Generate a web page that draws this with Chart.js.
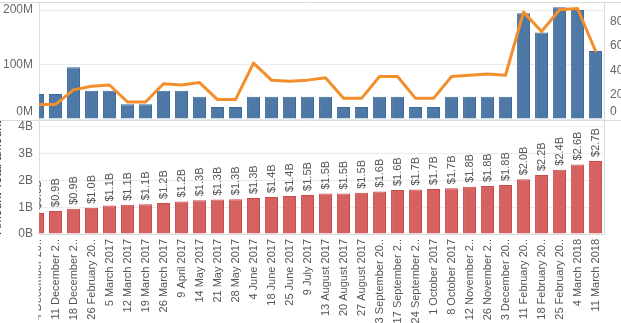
<!DOCTYPE html>
<html><head><meta charset="utf-8">
<script src="https://cdn.jsdelivr.net/npm/chart.js@4.4.1/dist/chart.umd.min.js"></script>
<style>
html,body{margin:0;padding:0;background:#fff;overflow:hidden;}
#wrap{position:relative;width:621px;height:323px;}
canvas{position:absolute;left:0;}
#top{top:0;width:621px;height:120px;}
#bot{top:120px;width:621px;height:203px;}
</style></head><body>
<div id="wrap"><canvas id="top" width="621" height="120"></canvas><canvas id="bot" width="621" height="203"></canvas></div>
<script>
const categories = ['4 December 2016','11 December 2016','18 December 2016','26 February 2017','5 March 2017','12 March 2017','19 March 2017','26 March 2017','9 April 2017','14 May 2017','21 May 2017','28 May 2017','4 June 2017','18 June 2017','25 June 2017','9 July 2017','13 August 2017','20 August 2017','27 August 2017','3 September 2017','17 September 2017','24 September 2017','1 October 2017','8 October 2017','12 November 2017','26 November 2017','3 December 2017','11 February 2018','18 February 2018','25 February 2018','4 March 2018','11 March 2018'];
const tickLabels = ['4 December 20..','11 December 2..','18 December 2..','26 February 20..','5 March 2017','12 March 2017','19 March 2017','26 March 2017','9 April 2017','14 May 2017','21 May 2017','28 May 2017','4 June 2017','18 June 2017','25 June 2017','9 July 2017','13 August 2017','20 August 2017','27 August 2017','3 September 20..','17 September 2..','24 September 2..','1 October 2017','8 October 2017','12 November 2..','26 November 2..','3 December 20..','11 February 20..','18 February 20..','25 February 20..','4 March 2018','11 March 2018'];
const weeklyAmountM = [46,46,95,52,52,27,27,52,52,41,22,22,41,41,41,41,41,22,22,41,41,22,22,41,41,41,41,194,159,205,200,125];
const weeklyCount = [12,12,24,27,28,14,14,29,28,30,16,16,46,32,31,32,34,17,17,35,35,17,17,35,36,37,36,88,72,90,91,56];
const totalAmountB = [0.78,0.86,0.94,0.98,1.06,1.09,1.11,1.16,1.21,1.26,1.29,1.30,1.34,1.38,1.42,1.46,1.51,1.51,1.54,1.59,1.64,1.66,1.68,1.71,1.76,1.79,1.83,2.04,2.20,2.40,2.60,2.73];
const topLeftValues = [0, 100, 200];
const topLeftTicks = ['0M','100M','200M'];
const rightValues = [0, 20, 40, 60, 80];
const rightTicks = ['0','20','40','60','80'];
const bottomValues = [0, 1, 2, 3, 4];
const bottomTicks = ['0B','1B','2B','3B','4B'];

const FONT = '"Liberation Sans", Arial, sans-serif';
Chart.defaults.font.family = FONT;
Chart.defaults.font.size = 11;
Chart.defaults.color = '#666';
Chart.defaults.animation = false;

const idx = categories.map((_, i) => i);
const xMin = 0.083, xMax = 31.47;
const GRID = '#ececec', AXIS = '#dcdcdc';

// the lowest tick label sits just above its gridline (second empty line lifts it)
const lift = (labels) => (v, i) => (i === 0 ? [labels[i], ''] : labels[i]);
const plain = (labels) => (v, i) => labels[i];
const setTicks = (values) => s => { s.ticks = values.map(v => ({value: v})); };
const fixY = w => s => { s.width = w; s.paddingTop = 0; s.paddingBottom = 0; };

const frameTop = {
  id: 'frameTop',
  afterDraw(chart) {
    const {ctx, width} = chart;
    ctx.save();
    ctx.strokeStyle = AXIS; ctx.lineWidth = 1;
    ctx.beginPath(); ctx.moveTo(0, 2.5); ctx.lineTo(width, 2.5); ctx.stroke();
    ctx.restore();
  }
};

const frameBot = {
  id: 'frameBot',
  afterDraw(chart) {
    const {ctx, chartArea, width, height} = chart;
    ctx.save();
    ctx.fillStyle = '#fff';
    ctx.fillRect(0, chartArea.bottom + 8, chartArea.left - 0.5, height - chartArea.bottom);
    ctx.strokeStyle = AXIS; ctx.lineWidth = 1;
    ctx.beginPath(); ctx.moveTo(0, 0.5); ctx.lineTo(width, 0.5); ctx.stroke();
    const rx = Math.round(chartArea.right) + 0.5;
    ctx.beginPath(); ctx.moveTo(rx, 0); ctx.lineTo(rx, chartArea.bottom); ctx.stroke();
    ctx.restore();
  }
};

const barLabels = {
  id: 'barLabels',
  afterDatasetsDraw(chart) {
    const {ctx, chartArea} = chart;
    const meta = chart.getDatasetMeta(0);
    ctx.save();
    ctx.beginPath();
    ctx.rect(chartArea.left, chartArea.top, chartArea.right - chartArea.left, chartArea.bottom - chartArea.top);
    ctx.clip();
    ctx.font = '11px ' + FONT;
    ctx.fillStyle = '#555';
    ctx.textAlign = 'left';
    ctx.textBaseline = 'middle';
    meta.data.forEach((bar, i) => {
      ctx.save();
      ctx.translate(bar.x, bar.y - 4);
      ctx.rotate(-Math.PI / 2);
      ctx.fillText('$' + totalAmountB[i].toFixed(1) + 'B', 0, 0);
      ctx.restore();
    });
    ctx.restore();
  }
};

new Chart(document.getElementById('top'), {
  type: 'bar',
  data: {
    datasets: [
      {
        type: 'line', label: 'Count', yAxisID: 'y1', order: 1,
        data: idx.map(i => ({x: i, y: weeklyCount[i]})),
        borderColor: '#f28e2b', borderWidth: 3, pointRadius: 0, tension: 0,
        borderJoinStyle: 'round', borderCapStyle: 'round'
      },
      {
        type: 'bar', label: 'Amount', yAxisID: 'y', order: 2,
        data: idx.map(i => ({x: i, y: weeklyAmountM[i]})),
        backgroundColor: '#4e79a7', borderColor: '#3f6b99', borderWidth: 1,
        barPercentage: 0.72, categoryPercentage: 1
      }
    ]
  },
  options: {
    responsive: false,
    layout: {padding: {top: 3, bottom: 1, left: 0, right: 0}},
    plugins: {legend: {display: false}, tooltip: {enabled: false}},
    scales: {
      x: {type: 'linear', min: xMin, max: xMax, bounds: 'data', offset: false, display: false},
      y: {
        position: 'left', min: 0, max: 213, bounds: 'data',
        afterBuildTicks: setTicks(topLeftValues),
        afterFit: fixY(39),
        ticks: {autoSkip: false, padding: 6, color: '#666', font: {size: 12}, callback: lift(topLeftTicks)},
        grid: {color: GRID, drawTicks: false},
        border: {color: AXIS}
      },
      y1: {
        position: 'right', min: 0, max: 95.5, bounds: 'data',
        afterBuildTicks: setTicks(rightValues),
        afterFit: fixY(17),
        ticks: {autoSkip: false, padding: 6, color: '#666', font: {size: 12}, callback: lift(rightTicks)},
        grid: {drawOnChartArea: false, drawTicks: false},
        border: {color: AXIS}
      }
    }
  },
  plugins: [frameTop]
});

new Chart(document.getElementById('bot'), {
  type: 'bar',
  data: {
    datasets: [{
      label: 'Total amount',
      data: idx.map(i => ({x: i, y: totalAmountB[i]})),
      backgroundColor: '#d66161', borderColor: '#c64c4c', borderWidth: 1,
      barPercentage: 0.72, categoryPercentage: 1
    }]
  },
  options: {
    responsive: false,
    layout: {padding: {top: 1, bottom: 0, left: 0, right: 17}},
    plugins: {legend: {display: false}, tooltip: {enabled: false}},
    scales: {
      x: {
        type: 'linear', min: xMin, max: xMax, bounds: 'data', offset: false,
        afterFit: s => { s.height = 89; s.paddingLeft = 0; s.paddingRight = 0; },
        afterBuildTicks: setTicks(idx),
        ticks: {autoSkip: false, minRotation: 90, maxRotation: 90, padding: 5, color: '#555', font: {size: 11},
          callback: (v, i) => tickLabels[i]},
        grid: {display: false, drawTicks: false},
        border: {display: true, color: AXIS}
      },
      y: {
        position: 'left', min: 0, max: 4.22, bounds: 'data',
        afterBuildTicks: setTicks(bottomValues),
        afterFit: fixY(39),
        ticks: {autoSkip: false, padding: 6, color: '#666', font: {size: 12}, callback: plain(bottomTicks)},
        grid: {color: GRID, drawTicks: false},
        border: {color: AXIS},
        title: {display: true, text: 'Amount Total amount', color: '#333', font: {size: 12}, padding: {top: -10, bottom: 0}}
      }
    }
  },
  plugins: [barLabels, frameBot]
});
</script>
</body></html>
